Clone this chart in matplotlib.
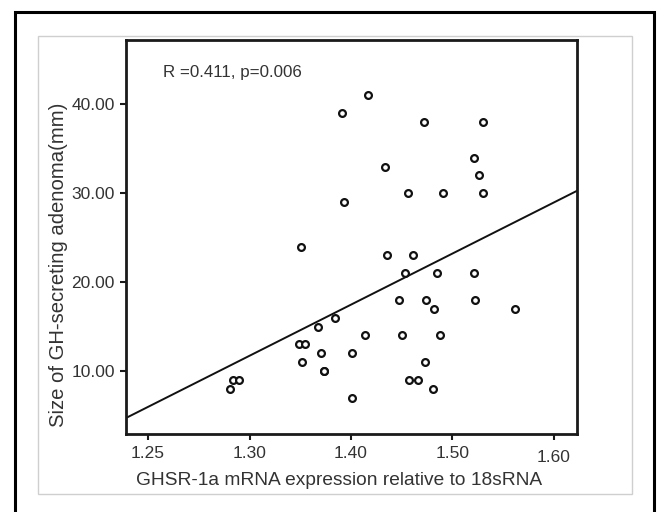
import numpy as np
import matplotlib
matplotlib.use("Agg")
import matplotlib.pyplot as plt
from matplotlib.patches import Rectangle
from matplotlib.transforms import ScaledTranslation

plt.rcParams['font.family'] = ['Liberation Sans', 'DejaVu Sans']

# ---- data ----
ghsr_expr = [1.391, 1.417, 1.393, 1.351, 1.472, 1.530, 1.434, 1.521, 1.526,
             1.456, 1.491, 1.530, 1.435, 1.461, 1.453, 1.485, 1.521, 1.447,
             1.474, 1.482, 1.522, 1.562, 1.414, 1.450, 1.488, 1.401, 1.473,
             1.457, 1.466, 1.481, 1.401, 1.367, 1.384, 1.349, 1.355, 1.352,
             1.370, 1.373, 1.373, 1.284, 1.290, 1.281]
adenoma_size = [39, 41, 29, 24, 38, 38, 33, 34, 32,
                30, 30, 30, 23, 23, 21, 21, 21, 18,
                18, 17, 18, 17, 14, 14, 14, 12, 11,
                9, 9, 8, 7, 15, 16, 13, 13, 11,
                12, 10, 10, 9, 9, 8]
fit_slope = 57.5
fit_intercept = -63.04
x_tick_values = [1.20, 1.30, 1.40, 1.50, 1.60]
x_tick_labels = ["1.25", "1.30", "1.40", "1.50", "1.60"]
y_tick_values = [10, 20, 30, 40]
y_tick_labels = ["10.00", "20.00", "30.00", "40.00"]
annotation = "R =0.411, p=0.006"
x_label = "GHSR-1a mRNA expression relative to 18sRNA"
y_label = "Size of GH-secreting adenoma(mm)"

W, H = 660, 512
fig = plt.figure(figsize=(W / 100, H / 100), dpi=100)
fig.patch.set_facecolor('white')

def fx(px):
    return px / W

def fy(py):
    return 1 - py / H

# outer black frame (bottom edge runs off the image)
fig.patches.append(Rectangle((fx(15), fy(525)), fx(654) - fx(15), fy(12) - fy(525),
                             transform=fig.transFigure, fill=False,
                             edgecolor='black', linewidth=2.2, zorder=-3))
# light gray inner panel
fig.patches.append(Rectangle((fx(38), fy(494)), fx(632) - fx(38), fy(36) - fy(494),
                             transform=fig.transFigure, facecolor='white',
                             edgecolor='#cfcfcf', linewidth=1.0, zorder=-2))

ax = fig.add_axes([fx(126), fy(434), fx(577) - fx(126), fy(40) - fy(434)])
ax.set_zorder(2)
ax.set_facecolor('white')
xlim = (1.1783, 1.6227)
ylim = (2.91, 47.23)
ax.set_xlim(*xlim)
ax.set_ylim(*ylim)

ax.plot(ghsr_expr, adenoma_size, 'o', mfc='white', mec='#111111',
        ms=4.9, mew=1.6, linestyle='none', zorder=3)

xl = np.array(xlim)
ax.plot(xl, fit_intercept + fit_slope * xl, color='#111111', lw=1.4, zorder=2)

for s in ax.spines.values():
    s.set_linewidth(2.0)
    s.set_color('#1a1a1a')

ax.set_xticks(x_tick_values)
ax.set_xticklabels(x_tick_labels)
ax.set_yticks(y_tick_values)
ax.set_yticklabels(y_tick_labels)
ax.tick_params(axis='both', direction='out', length=4.5, width=1.5,
               color='#1a1a1a', labelsize=12.5, labelcolor='#333333')
ax.tick_params(axis='x', pad=4.5)
ax.tick_params(axis='y', pad=3.5)

# the last x tick label sits a little lower in the reference
last = ax.get_xticklabels()[-1]
last.set_transform(last.get_transform() + ScaledTranslation(0, -3 / 100, fig.dpi_scale_trans))

ax.text((163 - 126) / 451, 1 - (76.7 - 40) / 394, annotation,
        transform=ax.transAxes, fontsize=12.2, color='#333333',
        ha='left', va='baseline')

fig.text(fx(339), fy(485), x_label, fontsize=13.8, color='#333333',
         ha='center', va='baseline')
fig.text(fx(59), fy(265), y_label, fontsize=14.6, color='#333333',
         ha='center', va='center', rotation=90)

fig.savefig("out.png", dpi=100, facecolor='white')
